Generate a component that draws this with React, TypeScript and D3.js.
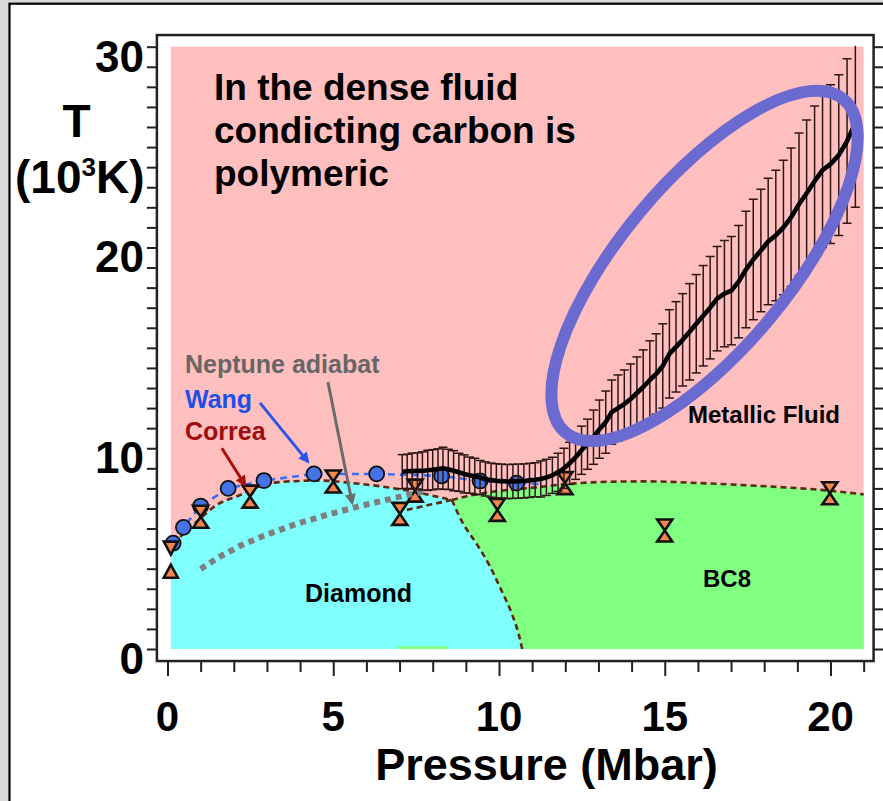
import React, { useRef, useEffect } from 'react';
import * as d3 from 'd3';

// Wang et al. (blue circles + dashed line)
const wangP = [0.17, 0.48, 1.0, 1.83, 2.91, 4.42, 6.31, 8.27, 9.43, 10.53];
const wangT = [5.27, 6.06, 7.12, 8.0, 8.39, 8.72, 8.72, 8.62, 8.37, 8.26];
const wangLineP = [0.17, 0.48, 1.0, 1.83, 2.91, 4.42, 6.31, 8.27, 9.43, 10.53, 11.2];
const wangLineT = [5.27, 6.06, 7.12, 8.0, 8.39, 8.72, 8.72, 8.62, 8.37, 8.26, 8.22];

// Correa et al. brackets (hourglass = solid below / liquid above)
const correaP = [1.0, 2.49, 5.0, 7.47, 7.01, 9.95, 11.99, 15.0, 19.98];
const correaT = [6.59, 7.59, 8.34, 7.89, 6.73, 6.93, 8.26, 5.9, 7.76];
const correaLiquidP = [0.1];
const correaLiquidT = [5.05];
const correaSolidP = [0.1];
const correaSolidT = [3.85];

// Neptune adiabat
const adiabatP = [1.0, 1.58, 2.19, 2.89, 3.8, 4.8, 5.81, 6.81, 7.72];
const adiabatT = [3.98, 4.6, 5.14, 5.63, 6.18, 6.68, 7.12, 7.51, 7.84];

// phase boundaries
const diamondMeltP = [0.1, 0.4, 0.88, 1.48, 2.19, 2.79, 3.6, 4.6, 5.6, 6.61, 7.41, 8.12, 8.58];
const diamondMeltT = [4.7, 5.6, 6.34, 7.17, 7.67, 8.12, 8.34, 8.39, 8.26, 8.06, 7.84, 7.59, 7.42];
const bc8MeltP = [8.58, 9.0, 9.8, 11.1, 12.3, 13.3, 14.5, 16.1, 18.1, 19.6, 21.0];
const bc8MeltT = [7.42, 7.6, 7.83, 8.05, 8.25, 8.33, 8.35, 8.26, 8.1, 7.94, 7.7];
const bc8MetaP = [7.22, 7.9, 8.58];
const bc8MetaT = [6.93, 7.18, 7.42];
const solidBoundaryP = [8.58, 8.9, 9.3, 9.7, 10.05, 10.4, 10.6, 10.7];
const solidBoundaryT = [7.42, 6.3, 5.3, 4.2, 3.0, 1.7, 0.7, 0];

// simulation curve with error bars
const curveP = [
  7.08, 7.23, 7.38, 7.54, 7.69, 7.85, 8.0, 8.16, 8.31, 8.47,
  8.63, 8.79, 8.95, 9.11, 9.27, 9.43, 9.59, 9.76, 9.92, 10.08,
  10.25, 10.42, 10.58, 10.75, 10.92, 11.09, 11.26, 11.43, 11.61, 11.78,
  11.96, 12.13, 12.31, 12.49, 12.67, 12.85, 13.03, 13.22, 13.4, 13.59,
  13.78, 13.97, 14.16, 14.35, 14.55, 14.74, 14.94, 15.14, 15.34, 15.54,
  15.75, 15.95, 16.16, 16.37, 16.58, 16.8, 17.01, 17.23, 17.45, 17.67,
  17.9, 18.12, 18.35, 18.58, 18.81, 19.05, 19.28, 19.52, 19.76, 20.0,
  20.25, 20.5, 20.75,
];
const curveT = [
  8.83, 8.85, 8.86, 8.87, 8.87, 8.9, 8.93, 8.97, 9.0, 8.95,
  8.88, 8.8, 8.72, 8.66, 8.6, 8.54, 8.47, 8.41, 8.38, 8.36,
  8.34, 8.35, 8.36, 8.37, 8.4, 8.43, 8.47, 8.55, 8.65, 8.8,
  9.0, 9.25, 9.55, 9.9, 10.2, 10.55, 10.95, 11.3, 11.8, 12.0,
  12.2, 12.45, 12.75, 13.05, 13.4, 13.7, 14.1, 14.7, 15.05, 15.4,
  15.8, 16.2, 16.6, 17.0, 17.45, 17.7, 17.85, 18.3, 18.9, 19.4,
  19.85, 20.3, 20.6, 21.0, 21.5, 22.15, 22.7, 23.3, 23.85, 24.15,
  24.6, 25.3, 26.2,
];
const curveErr = [
  0.85, 0.85, 0.9, 0.9, 0.95, 1.0, 1.0, 1.0, 1.05, 1.0,
  1.0, 0.95, 0.95, 0.9, 0.9, 0.85, 0.85, 0.85, 0.85, 0.85,
  0.85, 0.85, 0.85, 0.85, 0.85, 0.85, 0.9, 0.9, 0.9, 0.95,
  1.0, 1.05, 1.1, 1.2, 1.25, 1.35, 1.45, 1.55, 1.6, 1.65,
  1.7, 1.75, 1.8, 1.85, 1.95, 2.0, 2.1, 2.2, 2.25, 2.3,
  2.4, 2.45, 2.5, 2.55, 2.6, 2.65, 2.7, 2.8, 2.9, 3.0,
  3.05, 3.15, 3.25, 3.35, 3.45, 3.55, 3.65, 3.75, 3.85, 3.95,
  4.0, 4.1, 4.2,
];

const xTickLabels = [0, 5, 10, 15, 20];
const yTickLabels = [0, 10, 20, 30];

const W = 883;
const H = 801;

const zip = (ps: number[], ts: number[]) => ps.map((p, i) => [p, ts[i]] as [number, number]);

export default function App() {
  const svgRef = useRef<SVGSVGElement>(null);

  useEffect(() => {
    const svg = d3.select(svgRef.current);
    svg.selectAll('*').remove();
    const font = '"Liberation Sans", Arial, Helvetica, sans-serif';

    const x = d3.scaleLinear().domain([0, 20]).range([167.5, 830.5]);
    const y = d3.scaleLinear().domain([0, 30]).range([649, 46.7]);
    const fx0 = x(-0.32), fx1 = x(21.3), fy0 = y(30.58), fy1 = y(-0.6);
    const line = d3.line<[number, number]>().x(d => x(d[0])).y(d => y(d[1]));

    // screenshot border
    svg.append('rect').attr('width', W).attr('height', H).attr('fill', '#d9d9d9');
    svg.append('rect')
      .attr('x', 9.5).attr('y', 3.7).attr('width', W + 20).attr('height', H + 20)
      .attr('fill', '#fff').attr('stroke', '#000').attr('stroke-width', 2.2);

    const defs = svg.append('defs');
    defs.append('clipPath').attr('id', 'plot-clip').append('rect')
      .attr('x', x(0.1)).attr('y', y(30.05))
      .attr('width', x(21) - x(0.1)).attr('height', y(0) - y(30.05));
    const addArrow = (id: string, color: string) => {
      defs.append('marker').attr('id', id)
        .attr('viewBox', '0 0 10 10').attr('refX', 8).attr('refY', 5)
        .attr('markerWidth', 15).attr('markerHeight', 11)
        .attr('markerUnits', 'userSpaceOnUse').attr('orient', 'auto')
        .append('path').attr('d', 'M0,0 L10,5 L0,10 Z').attr('fill', color);
    };
    addArrow('arr-blue', '#2a55e8');
    addArrow('arr-red', '#a8100c');
    addArrow('arr-gray', '#6b6b6b');

    // plot frame (white inset)
    svg.append('rect').attr('x', fx0).attr('y', fy0)
      .attr('width', fx1 - fx0).attr('height', fy1 - fy0).attr('fill', '#fff');

    // regions
    svg.append('rect')
      .attr('x', x(0.1)).attr('y', y(30))
      .attr('width', x(21) - x(0.1)).attr('height', y(0) - y(30))
      .attr('fill', '#ffbfbf');

    const diamondPoly: [number, number][] = [
      [0.1, 0],
      ...zip(diamondMeltP, diamondMeltT),
      ...zip(solidBoundaryP, solidBoundaryT).slice(1),
    ];
    svg.append('path').attr('d', line(diamondPoly) + 'Z').attr('fill', '#80ffff');

    const bc8Poly: [number, number][] = [
      ...zip(bc8MeltP, bc8MeltT),
      [21, 0],
      ...zip(solidBoundaryP, solidBoundaryT).reverse(),
    ];
    svg.append('path').attr('d', line(bc8Poly) + 'Z').attr('fill', '#80ff80');
    svg.append('rect').attr('x', x(6.95)).attr('y', y(0.14))
      .attr('width', x(8.45) - x(6.95)).attr('height', y(0) - y(0.14)).attr('fill', '#80ff80');

    // axes ticks
    const tickColor = '#222';
    const left = svg.append('g').attr('transform', `translate(${fx0},0)`)
      .call(d3.axisLeft(y).tickValues(d3.range(0, 31)).tickSize(10).tickFormat(() => ''));
    const right = svg.append('g').attr('transform', `translate(${fx1},0)`)
      .call(d3.axisRight(y).tickValues(d3.range(0, 31)).tickSize(10).tickFormat(() => ''));
    const bottomMinor = svg.append('g').attr('transform', `translate(0,${fy1})`)
      .call(d3.axisBottom(x).tickValues(d3.range(0, 22).filter(v => v % 5 !== 0)).tickSize(11).tickFormat(() => ''));
    const bottomMajor = svg.append('g').attr('transform', `translate(0,${fy1})`)
      .call(d3.axisBottom(x).tickValues(xTickLabels).tickSize(15).tickFormat(() => ''));
    [left, right, bottomMinor, bottomMajor].forEach(g => {
      g.select('.domain').remove();
      g.selectAll('line').attr('stroke', tickColor).attr('stroke-width', 2);
    });

    // phase boundaries
    const brown = '#5b2a12';
    [zip(diamondMeltP, diamondMeltT), zip(bc8MeltP, bc8MeltT), zip(bc8MetaP, bc8MetaT), zip(solidBoundaryP, solidBoundaryT)]
      .forEach(pts => {
        svg.append('path').attr('d', line.curve(d3.curveMonotoneX)(pts) ?? '')
          .attr('fill', 'none').attr('stroke', brown).attr('stroke-width', 2.6)
          .attr('stroke-dasharray', '6,4');
      });
    line.curve(d3.curveLinear);

    // Wang
    svg.append('path').attr('d', line(zip(wangLineP, wangLineT)) ?? '')
      .attr('fill', 'none').attr('stroke', '#3d6df0').attr('stroke-width', 2.6)
      .attr('stroke-dasharray', '7,5');
    svg.append('g').selectAll('circle').data(zip(wangP, wangT)).enter().append('circle')
      .attr('cx', d => x(d[0])).attr('cy', d => y(d[1])).attr('r', 7.5)
      .attr('fill', '#4672e8').attr('stroke', '#111').attr('stroke-width', 1.8);

    // Correa
    const orange = '#f4874b';
    const hourglass = 'M-7.5,-11 L7.5,-11 L0,0 Z M0,0 L7.5,11 L-7.5,11 Z';
    svg.append('g').selectAll('path').data(zip(correaP, correaT)).enter().append('path')
      .attr('d', hourglass).attr('transform', d => `translate(${x(d[0])},${y(d[1])})`)
      .attr('fill', orange).attr('stroke', '#111').attr('stroke-width', 2.6)
      .attr('stroke-linejoin', 'miter');
    svg.append('g').selectAll('path').data(zip(correaLiquidP, correaLiquidT)).enter().append('path')
      .attr('d', 'M-7,-6 L7,-6 L0,7 Z').attr('transform', d => `translate(${x(d[0])},${y(d[1])})`)
      .attr('fill', orange).attr('stroke', '#111').attr('stroke-width', 2.6);
    svg.append('g').selectAll('path').data(zip(correaSolidP, correaSolidT)).enter().append('path')
      .attr('d', 'M-7,6 L7,6 L0,-7 Z').attr('transform', d => `translate(${x(d[0])},${y(d[1])})`)
      .attr('fill', orange).attr('stroke', '#111').attr('stroke-width', 2.6);

    // Neptune adiabat
    svg.append('path').attr('d', line(zip(adiabatP, adiabatT)) ?? '')
      .attr('fill', 'none').attr('stroke', '#7f7f7f').attr('stroke-width', 6)
      .attr('stroke-dasharray', '6,5');

    // error bars
    const eb = svg.append('g').attr('clip-path', 'url(#plot-clip)')
      .attr('stroke', '#2e1616').attr('stroke-width', 1.5);
    curveP.forEach((p, i) => {
      const cx = x(p);
      const y1 = y(curveT[i] + curveErr[i]);
      const y2 = y(curveT[i] - curveErr[i]);
      eb.append('line').attr('x1', cx).attr('x2', cx).attr('y1', y1).attr('y2', y2);
      eb.append('line').attr('x1', cx - 4.5).attr('x2', cx + 4.5).attr('y1', y1).attr('y2', y1);
      eb.append('line').attr('x1', cx - 4.5).attr('x2', cx + 4.5).attr('y1', y2).attr('y2', y2);
    });
    svg.append('path').attr('d', line(zip(curveP, curveT)) ?? '')
      .attr('fill', 'none').attr('stroke', '#000').attr('stroke-width', 4.6)
      .attr('stroke-linejoin', 'round');

    // highlight ellipse
    svg.append('ellipse')
      .attr('transform', `translate(${x(16.2)},${y(19.08)}) rotate(-50.2)`)
      .attr('rx', 217).attr('ry', 84)
      .attr('fill', 'none').attr('stroke', '#6a6ad0').attr('stroke-width', 12);

    // frame outline
    svg.append('rect').attr('x', fx0).attr('y', fy0)
      .attr('width', fx1 - fx0).attr('height', fy1 - fy0)
      .attr('fill', 'none').attr('stroke', '#222').attr('stroke-width', 2.5);

    // arrows
    const arrow = (p1: number, t1: number, p2: number, t2: number, color: string, id: string) => {
      svg.append('line')
        .attr('x1', x(p1)).attr('y1', y(t1)).attr('x2', x(p2)).attr('y2', y(t2))
        .attr('stroke', color).attr('stroke-width', 3).attr('marker-end', `url(#${id})`);
    };
    arrow(2.79, 12.26, 4.24, 9.32, '#2a55e8', 'arr-blue');
    arrow(1.64, 10.0, 2.34, 8.17, '#a8100c', 'arr-red');
    arrow(4.84, 13.3, 5.57, 7.27, '#6b6b6b', 'arr-gray');

    // text
    const txt = (s: string, tx: number, ty: number, size: number, color = '#000', anchor = 'start') =>
      svg.append('text').attr('x', tx).attr('y', ty)
        .attr('font-family', font).attr('font-weight', 'bold').attr('font-size', size)
        .attr('fill', color).attr('text-anchor', anchor).text(s);

    txt('In the dense fluid', 214, 100, 37);
    txt('condicting carbon is', 214, 143, 37);
    txt('polymeric', 214, 186, 37);
    txt('Neptune adiabat', 185, 373, 25, '#666666');
    txt('Wang', 185, 408, 25, '#1f50e6');
    txt('Correa', 185, 440, 25, '#a00c0c');
    txt('Metallic Fluid', 688, 423, 24);
    txt('Diamond', 305, 602, 25);
    txt('BC8', 703, 587, 24);

    yTickLabels.forEach(v => txt(String(v), 144, y(v) + 25, 44, '#000', 'end'));
    xTickLabels.forEach(v => txt(String(v), x(v), 731, 42, '#000', 'middle'));
    txt('Pressure (Mbar)', 546.5, 780, 45, '#000', 'middle');

    txt('T', 76.5, 137, 46, '#000', 'middle');
    const unit = svg.append('text').attr('x', 15).attr('y', 193)
      .attr('font-family', font).attr('font-weight', 'bold').attr('font-size', 46);
    unit.append('tspan').text('(10');
    unit.append('tspan').attr('font-size', 26).attr('dy', -17).text('3');
    unit.append('tspan').attr('dy', 17).text('K)');
  }, []);

  return (
    <svg
      ref={svgRef}
      width={W}
      height={H}
      style={{ position: 'absolute', left: 0, top: 0, display: 'block' }}
    />
  );
}
